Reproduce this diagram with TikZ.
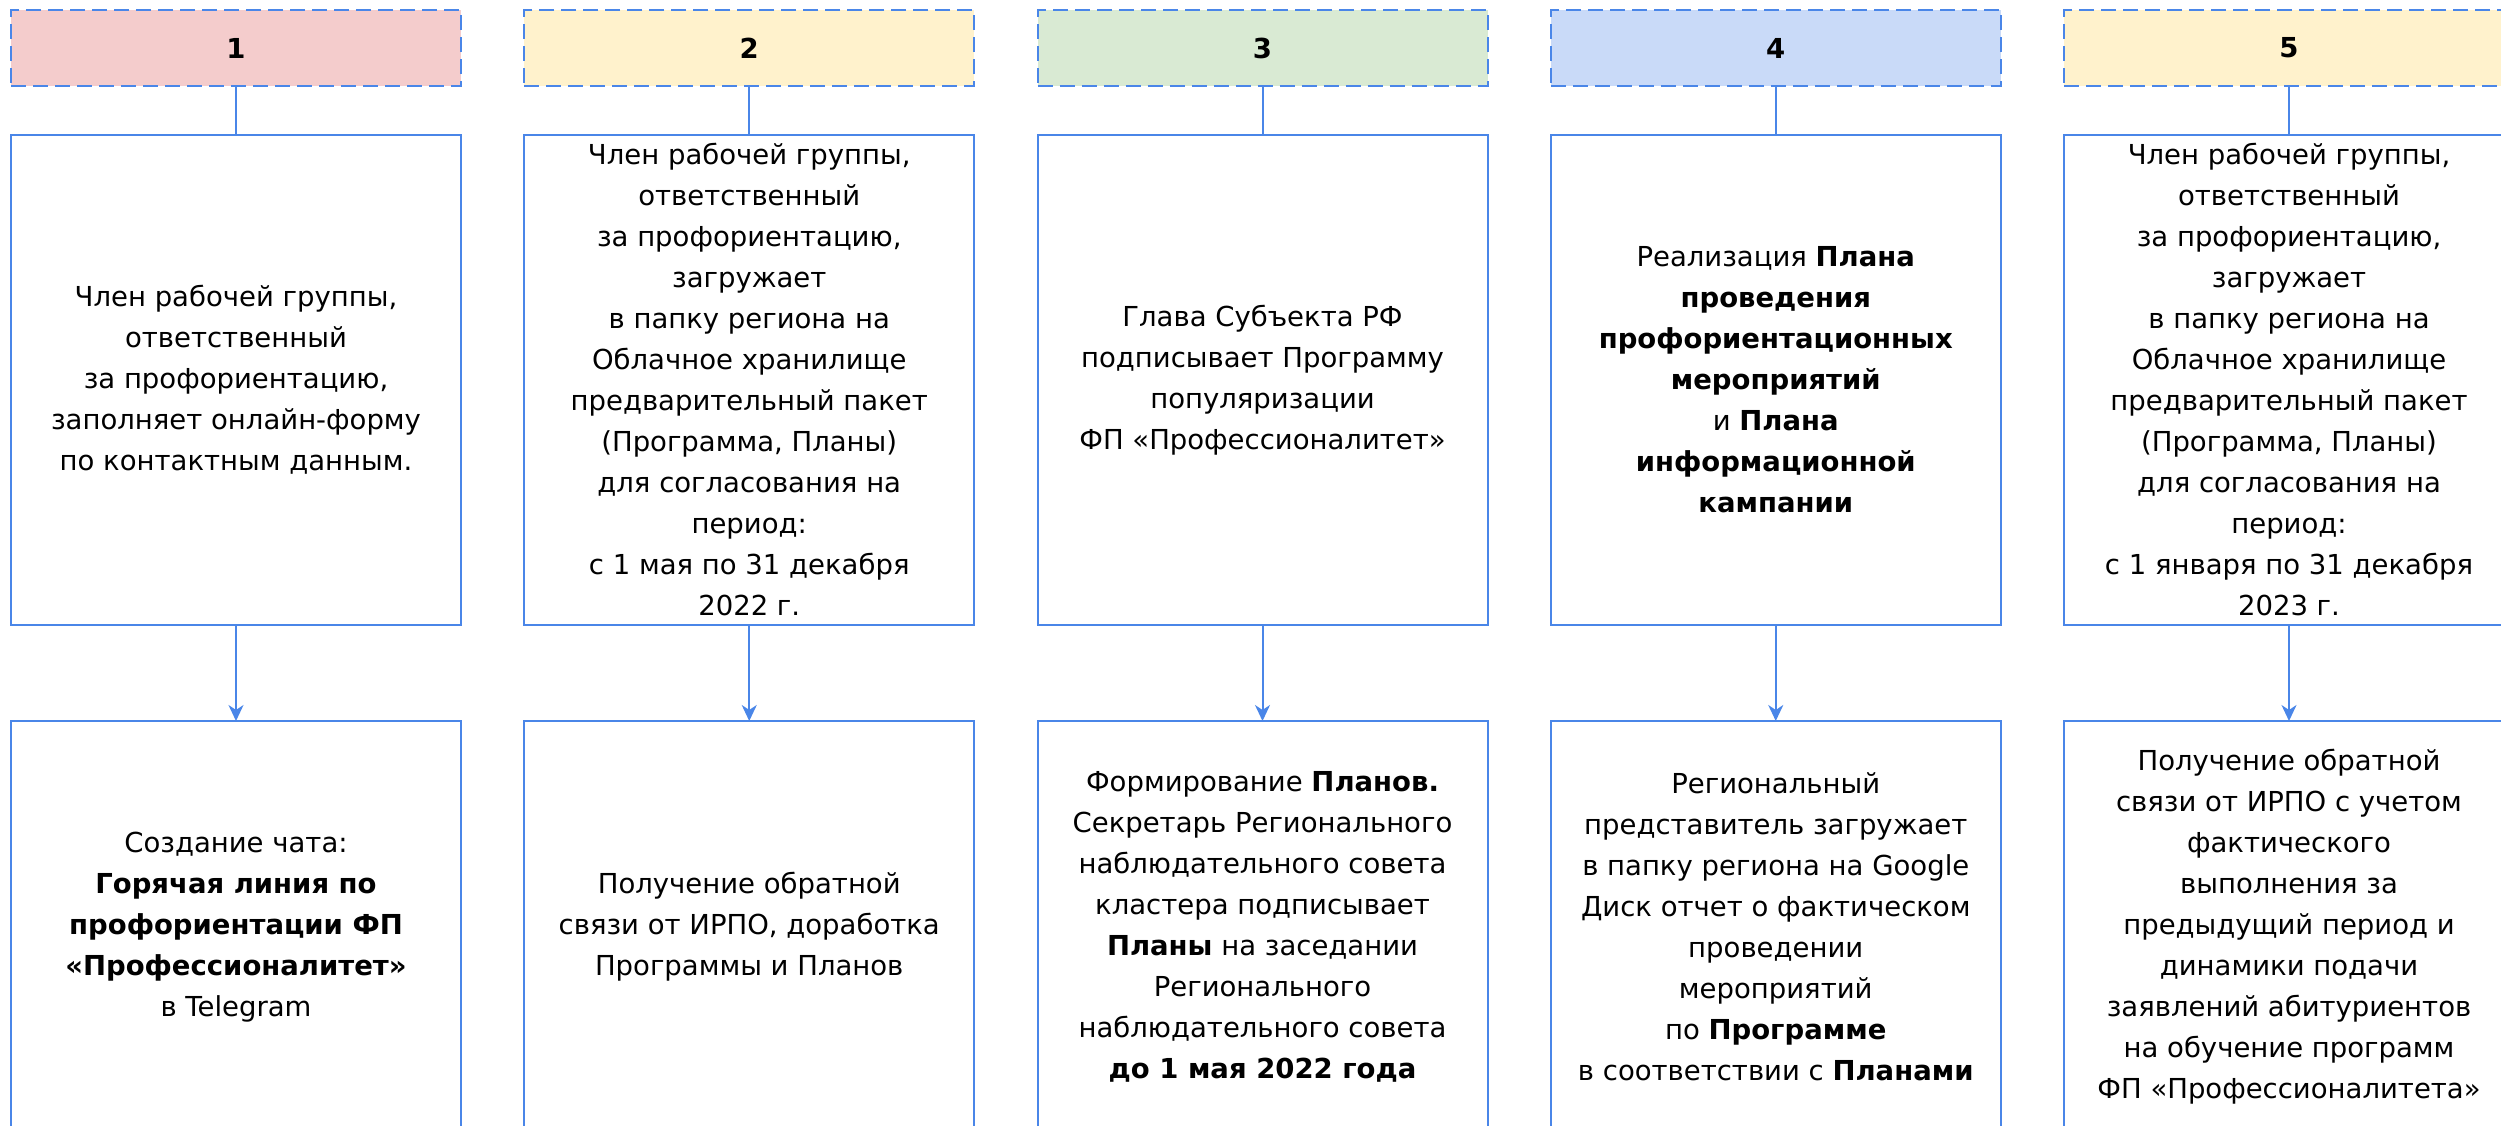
\documentclass[tikz,border=0pt]{standalone}
\usepackage{fontspec}
\setmainfont{DejaVu Sans}
\usepackage{tikz}
\usetikzlibrary{positioning, arrows.meta}
\definecolor{lineblue}{HTML}{4A86E8}
\definecolor{headpink}{HTML}{F4CCCC}
\definecolor{headyellow}{HTML}{FFF2CC}
\definecolor{headgreen}{HTML}{D9EAD3}
\definecolor{headblue}{HTML}{C9DAF8}
\tikzset{
  >={Stealth[length=16pt, width=15pt, inset=5pt]},
  every node/.style={outer sep=0pt, inner sep=0pt, align=center,
    font=\fontsize{27.5}{41}\selectfont},
  head/.style={draw=lineblue, line width=2pt, dash pattern=on 15pt off 7pt,
    minimum width=450pt, minimum height=76pt, font=\fontsize{27.5}{41}\selectfont\bfseries},
  task/.style={draw=lineblue, line width=2pt, minimum width=450pt, minimum height=490pt},
  result/.style={draw=lineblue, line width=2pt, minimum width=450pt, minimum height=412pt},
  link/.style={draw=lineblue, line width=2pt},
}

\begin{document}
\begin{tikzpicture}[x=1pt, y=1pt]
  \useasboundingbox (0,0) rectangle (2501,-1125);
  \clip (0,0) rectangle (2501,-1125);

  % headers
  \node[head, fill=headpink] (h1) at (236,-48) {1};
  \node[head, fill=headyellow] (h2) at (749.25,-48) {2};
  \node[head, fill=headgreen] (h3) at (1262.5,-48) {3};
  \node[head, fill=headblue] (h4) at (1775.75,-48) {4};
  \node[head, fill=headyellow] (h5) at (2289,-48) {5};

  % tasks
  \node[task, below=49pt of h1] (t1) {Член рабочей группы,\\ ответственный\\ за профориентацию,\\ заполняет онлайн-форму\\ по контактным данным.};
  \node[task, below=49pt of h2] (t2) {Член рабочей группы,\\ ответственный\\ за профориентацию,\\ загружает\\ в папку региона на\\ Облачное хранилище\\ предварительный пакет\\ (Программа, Планы)\\ для согласования на\\ период:\\ с 1 мая по 31 декабря\\ 2022 г.};
  \node[task, below=49pt of h3] (t3) {Глава Субъекта РФ\\ подписывает Программу\\ популяризации\\ ФП «Профессионалитет»};
  \node[task, below=49pt of h4] (t4) {Реализация \textbf{Плана}\\ \textbf{проведения}\\ \textbf{профориентационных}\\ \textbf{мероприятий}\\ и \textbf{Плана}\\ \textbf{информационной}\\ \textbf{кампании}};
  \node[task, below=49pt of h5] (t5) {Член рабочей группы,\\ ответственный\\ за профориентацию,\\ загружает\\ в папку региона на\\ Облачное хранилище\\ предварительный пакет\\ (Программа, Планы)\\ для согласования на\\ период:\\ с 1 января по 31 декабря\\ 2023 г.};

  % results
  \node[result, below=96pt of t1] (r1) {Создание чата:\\ \textbf{Горячая линия по}\\ \textbf{профориентации ФП}\\ \textbf{«Профессионалитет»}\\ в Telegram};
  \node[result, below=96pt of t2] (r2) {Получение обратной\\ связи от ИРПО, доработка\\ Программы и Планов};
  \node[result, below=96pt of t3] (r3) {Формирование \textbf{Планов.}\\ Секретарь Регионального\\ наблюдательного совета\\ кластера подписывает\\ \textbf{Планы} на заседании\\ Регионального\\ наблюдательного совета\\ \textbf{до 1 мая 2022 года}};
  \node[result, below=96pt of t4] (r4) {Региональный\\ представитель загружает\\ в папку региона на Google\\ Диск отчет о фактическом\\ проведении\\ мероприятий\\ по \textbf{Программе}\\ в соответствии с \textbf{Планами}};
  \node[result, below=96pt of t5] (r5) {Получение обратной\\ связи от ИРПО с учетом\\ фактического\\ выполнения за\\ предыдущий период и\\ динамики подачи\\ заявлений абитуриентов\\ на обучение программ\\ ФП «Профессионалитета»};

  % links
  \foreach \i in {1,...,5} {
    \draw[link] (h\i) -- (t\i);
    \draw[link, ->] (t\i) -- (r\i);
  }

\end{tikzpicture}
\end{document}
